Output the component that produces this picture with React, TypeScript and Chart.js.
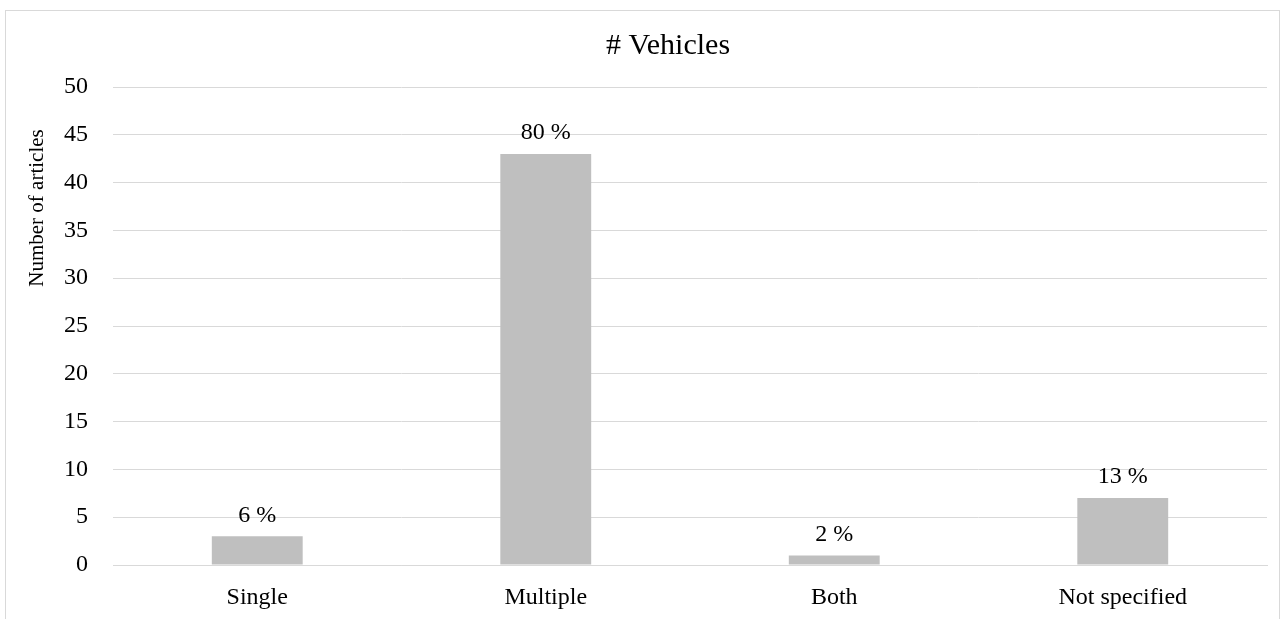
import { useEffect, useRef } from "react";
import { Chart, registerables } from "chart.js";

Chart.register(...registerables);

const chartTitle = "# Vehicles";
const yAxisTitle = "Number of articles";
const categories = ["Single", "Multiple", "Both", "Not specified"];
const articleCounts = [3, 43, 1, 7];
const shareLabels = ["6 %", "80 %", "2 %", "13 %"];
const yMin = 0;
const yMax = 50;
const yStep = 5;

const SERIF = "'Liberation Serif', 'Times New Roman', serif";
const GRID = "#d9d9d9";
const BAR = "#bfbfbf";

// Writes the share above each bar and the chart/axis titles
const annotations = {
  id: "annotations",
  afterDatasetsDraw(chart: any) {
    const ctx = chart.ctx;
    ctx.save();
    ctx.fillStyle = "#000";
    ctx.textAlign = "center";
    ctx.textBaseline = "middle";
    ctx.font = `24px ${SERIF}`;
    const meta = chart.getDatasetMeta(0);
    meta.data.forEach((bar: any, i: number) => {
      ctx.fillText(shareLabels[i], bar.x, bar.y - 21);
    });

    ctx.font = `30px ${SERIF}`;
    ctx.fillText(chartTitle, 668, 46);

    ctx.translate(37, 208);
    ctx.rotate(-Math.PI / 2);
    ctx.font = `21px ${SERIF}`;
    ctx.fillText(yAxisTitle, 0, 0);
    ctx.restore();
  },
};

export default function App() {
  const canvasRef = useRef<HTMLCanvasElement>(null);

  useEffect(() => {
    if (!canvasRef.current) return;
    const chart = new Chart(canvasRef.current, {
      type: "bar",
      data: {
        labels: categories,
        datasets: [
          {
            data: articleCounts,
            backgroundColor: BAR,
            borderWidth: 0,
            barPercentage: 0.315,
            categoryPercentage: 1,
          },
        ],
      },
      options: {
        responsive: false,
        animation: false,
        layout: { padding: { top: 87, right: 17, left: 0, bottom: 0 } },
        plugins: {
          legend: { display: false },
          title: { display: false },
          tooltip: { enabled: false },
        },
        scales: {
          x: {
            grid: { display: false, drawTicks: false },
            border: { color: GRID, width: 1 },
            ticks: {
              color: "#000",
              font: { family: SERIF, size: 24 },
              padding: 18,
            },
            afterFit(scale: any) {
              scale.height = 54;
            },
          },
          y: {
            min: yMin,
            max: yMax,
            grid: { color: GRID, lineWidth: 1, drawTicks: false },
            border: { display: false },
            ticks: {
              stepSize: yStep,
              color: "#000",
              font: { family: SERIF, size: 24 },
              padding: 25,
            },
            afterFit(scale: any) {
              scale.width = 113;
            },
          },
        },
      },
      plugins: [annotations],
    });
    return () => chart.destroy();
  }, []);

  return (
    <div
      style={{
        position: "fixed",
        left: 0,
        top: 0,
        width: 1284,
        height: 619,
        background: "#fff",
        overflow: "hidden",
      }}
    >
      <div
        style={{
          position: "absolute",
          left: 5,
          top: 10,
          width: 1275,
          height: 700,
          border: `1px solid ${GRID}`,
          boxSizing: "border-box",
          pointerEvents: "none",
        }}
      />
      <canvas ref={canvasRef} width={1284} height={619} style={{ position: "absolute", left: 0, top: 0 }} />
    </div>
  );
}
